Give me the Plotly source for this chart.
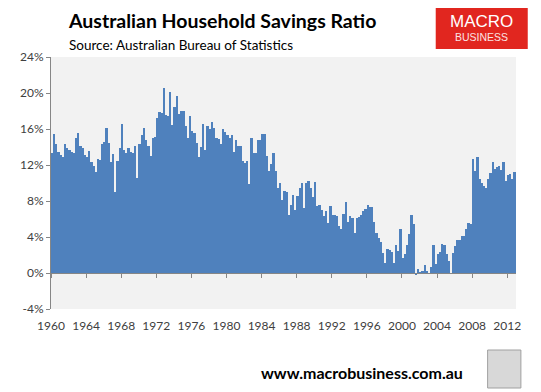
import plotly.graph_objects as go

# ---- data (quarterly household savings ratio, %, from 1960 Q1) ----
start_year = 1960
savings_ratio = [
    13.3, 15.4, 14.3, 13.5, 13.1, 12.9, 14.3, 13.9, 13.7, 13.4,
    13.3, 15.0, 15.6, 14.1, 13.9, 13.1, 12.9, 13.6, 12.3, 11.9,
    11.2, 12.7, 12.6, 14.3, 14.6, 16.1, 14.4, 12.3, 13.2, 9.0,
    12.4, 13.9, 16.6, 13.7, 13.3, 13.9, 13.4, 13.3, 14.1, 10.6,
    14.3, 15.3, 16.1, 14.8, 14.1, 13.0, 15.0, 15.1, 17.2, 17.9,
    17.8, 20.6, 17.6, 17.4, 20.1, 16.4, 18.5, 19.7, 17.7, 18.0,
    18.0, 16.3, 15.0, 17.4, 15.8, 15.6, 14.5, 12.9, 14.0, 16.6,
    13.7, 16.3, 16.0, 16.8, 16.1, 15.0, 14.9, 14.3, 16.0, 15.7,
    15.3, 15.0, 15.3, 13.4, 14.8, 14.1, 14.1, 12.5, 12.2, 12.5,
    9.9, 15.0, 13.3, 13.3, 14.8, 14.8, 15.5, 15.4, 13.0, 11.3,
    12.1, 13.3, 11.3, 9.4, 10.0, 8.1, 9.1, 9.0, 6.4, 7.6,
    8.7, 7.0, 8.6, 9.4, 10.0, 7.2, 10.0, 10.2, 9.5, 8.5,
    10.1, 7.4, 7.6, 7.0, 6.3, 6.9, 5.6, 7.4, 6.5, 6.4,
    6.3, 5.2, 4.9, 6.6, 7.9, 5.7, 6.3, 6.1, 4.4, 6.1,
    6.2, 6.5, 6.9, 7.1, 7.6, 7.3, 7.3, 5.7, 4.5, 3.9,
    3.4, 2.2, 1.1, 2.7, 2.6, 2.3, 1.1, 3.1, 2.5, 4.9,
    1.7, 2.1, 3.1, 4.3, 6.4, 5.4, -0.2, 0.4, 0.1, 0.2,
    0.9, 0.2, -0.1, 0.7, 3.1, 1.0, 2.1, 2.3, 3.2, 3.1,
    2.1, 1.3, -0.1, 2.2, 3.0, 3.7, 3.7, 4.1, 4.1, 4.9,
    5.6, 5.4, 12.7, 11.3, 12.9, 10.4, 10.0, 9.7, 9.5, 10.4,
    11.1, 12.3, 11.6, 11.8, 11.9, 11.4, 12.3, 10.2, 10.9, 11.0,
    10.4, 11.2,
]
year_ticks = list(range(1960, 2013, 4))
year_labels = [str(y) for y in year_ticks]
pct_ticks = [-4, 0, 4, 8, 12, 16, 20, 24]
pct_labels = [f"{v}%" for v in pct_ticks]

title_text = "Australian Household Savings Ratio"
subtitle_text = "Source: Australian Bureau of Statistics"
url_text = "www.macrobusiness.com.au"

quarter_x = [start_year + i / 4 + 0.125 for i in range(len(savings_ratio))]
end_year = start_year + len(savings_ratio) / 4

AXIS_GREY = "#868686"
TEXT = "#404040"
FONT = "Lato"

# page body has an 8px default margin: size the figure so the plot lands
# where it sits in the reference window
OFF = 8
PL, PT, PW, PH = 41, 57, 475, 252          # plot area in window pixels
FIG_W, FIG_H = 541 - OFF, 392 - OFF

fig = go.Figure()
fig.add_trace(go.Bar(
    x=quarter_x, y=savings_ratio,
    marker=dict(color="#4f81bd", line=dict(width=0)),
    width=0.25 * 0.86,
    showlegend=False, hoverinfo="skip",
))
# helper invisible trace so the zero-crossing category axis is drawn
fig.add_trace(go.Scatter(x=[start_year], y=[None], xaxis="x2", mode="markers",
                         showlegend=False, hoverinfo="skip"))

fig.update_layout(
    width=FIG_W, height=FIG_H,
    margin=dict(l=PL - OFF, r=FIG_W - (PL - OFF) - PW, t=PT - OFF, b=FIG_H - (PT - OFF) - PH),
    paper_bgcolor="white",
    plot_bgcolor="#f2f2f2",
    font=dict(family=FONT, color=TEXT, size=12),
    bargap=0,
    xaxis=dict(
        range=[start_year, end_year],
        tickvals=year_ticks, ticktext=year_labels,
        showgrid=False, zeroline=False, showline=False,
        ticks="outside", ticklen=6, tickcolor="rgba(0,0,0,0)",
        tickfont=dict(family=FONT, size=12, color=TEXT),
    ),
    xaxis2=dict(
        overlaying="x", matches="x", anchor="free", position=4 / 28,
        range=[start_year, end_year],
        tickvals=year_ticks, showticklabels=False,
        showgrid=False, zeroline=False,
        showline=True, linecolor=AXIS_GREY, linewidth=1,
        ticks="outside", ticklen=4, tickcolor=AXIS_GREY, tickwidth=1,
        side="bottom",
    ),
    yaxis=dict(
        range=[-4, 24],
        tickvals=pct_ticks, ticktext=pct_labels,
        showgrid=False, zeroline=False,
        showline=True, linecolor=AXIS_GREY, linewidth=1,
        ticks="outside", ticklen=4, tickcolor=AXIS_GREY,
        tickfont=dict(family=FONT, size=12, color=TEXT),
    ),
)


def px(x):
    return (x - PL) / PW


def py(y):
    return (PT + PH - y) / PH


annotations = [
    dict(text=f"<b>{title_text}</b>", x=px(56), y=py(20), xanchor="left", yanchor="middle",
         font=dict(family=FONT, size=19.5, color="black")),
    dict(text=subtitle_text, x=px(57), y=py(45), xanchor="left", yanchor="middle",
         font=dict(family=FONT, size=13.5, color="black")),
    dict(text="MACRO", x=px(481), y=py(21), xanchor="center", yanchor="middle",
         font=dict(family="Liberation Sans", size=17, color="white")),
    dict(text="BUSINESS", x=px(481), y=py(37), xanchor="center", yanchor="middle",
         font=dict(family="Liberation Sans", size=10.5, color="#fbe3e3")),
    dict(text=f"<b>{url_text}</b>", x=px(359), y=py(372), xanchor="center", yanchor="middle",
         font=dict(family=FONT, size=16, color="black")),
]
for a in annotations:
    a.update(xref="paper", yref="paper", showarrow=False)
fig.update_layout(annotations=annotations)

shapes = [
    dict(type="rect", x0=px(434), x1=px(528), y0=py(49), y1=py(5),
         fillcolor="#e1261f", line=dict(width=0), layer="below"),
    dict(type="rect", x0=px(487), x1=px(521), y0=py(388), y1=py(350),
         fillcolor="#d8d8d8", line=dict(width=1, color="#a0a0a0")),
]
for s in shapes:
    s.update(xref="paper", yref="paper")
fig.update_layout(shapes=shapes)

fig.write_html("out.html")
